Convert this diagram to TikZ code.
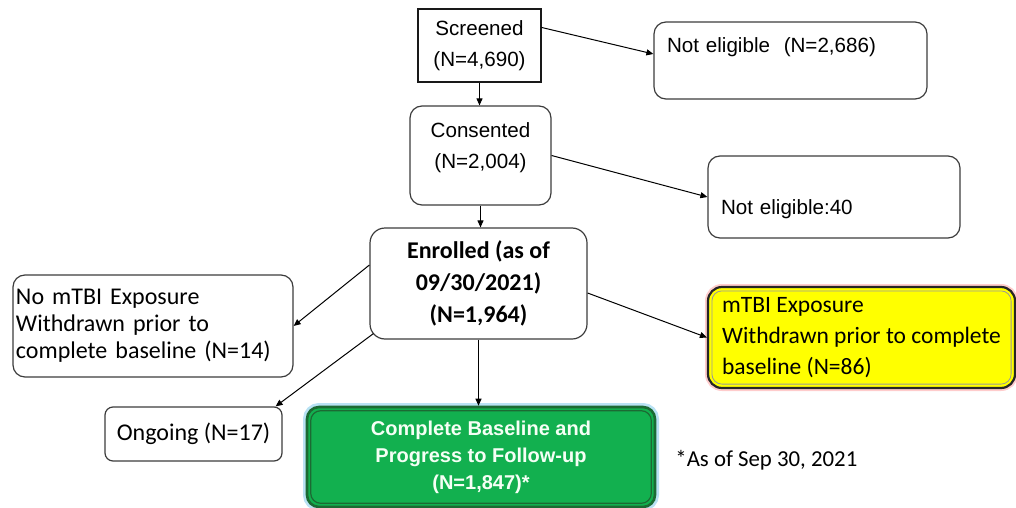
\documentclass[tikz,border=0pt]{standalone}
\usepackage{fontspec}
\setmainfont{Liberation Sans}
\newfontfamily\calibri{Carlito}
\usepackage{tikz}
\usetikzlibrary{arrows.meta,calc,positioning}
\definecolor{boxline}{HTML}{3C3C3C}
\definecolor{gfill}{HTML}{12B04F}
\definecolor{gline}{HTML}{1C6A33}
\definecolor{glow}{HTML}{B9E2F4}
\definecolor{yfill}{HTML}{FFFF00}

\begin{document}
\begin{tikzpicture}[x=0.5pt,y=-0.5pt,>={Triangle[length=3.5pt,width=3pt]},
  box/.style={draw=boxline,line width=0.6pt,rounded corners=6pt,inner sep=0pt,font=\fontsize{10.3}{15.5}\selectfont},
  cbox/.style={box,font=\calibri\fontsize{12}{13.5}\selectfont},
  flow/.style={->,line width=0.5pt}]
\useasboundingbox (0,0) rectangle (1016,508);
% screening
\node[box,rounded corners=0pt,draw=black!90,line width=0.55pt,minimum width=61.5pt,minimum height=36.5pt,align=center] (scr) at (479.5,45.5) {Screened\\(N=4,690)};
\node[box,text width=123.5pt,inner xsep=6.5pt,align=left,text height=15.25pt,text depth=23.25pt] (ne1) at (790.5,60.5) {Not eligible\ \ (N=2,686)};
\node[box,minimum width=70.5pt,minimum height=49.5pt,align=center] (con) at (480.5,155.5) {Consented\\(N=2,004)\\[-6pt]\mbox{}};
\node[box,text width=113pt,inner xsep=6.5pt,align=left,text height=29.25pt,text depth=11.75pt] (ne2) at (834,197) {Not eligible:40};
% enrolment
\node[cbox,font=\calibri\bfseries\fontsize{12}{16}\selectfont,rounded corners=7.5pt,minimum width=108.5pt,minimum height=55.5pt,align=center] (enr) at (478.5,283.5) {Enrolled (as of\\09/30/2021)\\(N=1,964)};
\node[cbox,text width=137pt,inner xsep=1.5pt,minimum height=51pt,align=left] (nomtbi) at (153,326) {No mTBI Exposure\\Withdrawn prior to\\complete baseline (N=14)};
\node[cbox,font=\calibri\fontsize{11.75}{15.5}\selectfont,fill=yfill,draw=black!85,line width=1.1pt,rounded corners=7pt,minimum width=153.5pt,minimum height=50.5pt,align=left,preaction={draw=red!20,line width=3pt}] (yel) at (861.5,337.5) {mTBI Exposure\\Withdrawn prior to complete\\baseline (N=86)};
\draw[black!40,line width=0.4pt,rounded corners=5pt] ($(yel.north west)+(5,5)$) rectangle ($(yel.south east)+(-5,-5)$);
% outcome
\node[cbox,rounded corners=4pt,minimum width=88.5pt,minimum height=27pt] (ong) at (193.5,434) {Ongoing (N=17)};
\node[box,draw=gline,line width=1.3pt,fill=gfill,rounded corners=6pt,minimum width=174pt,minimum height=50pt,align=center,text=green!4,font=\bfseries\fontsize{10}{13.5}\selectfont,preaction={draw=glow,line width=4pt}] (grn) at (481,457) {Complete Baseline and\\Progress to Follow-up\\(N=1,847)*};
\draw[gline,line width=0.6pt,rounded corners=5pt] ($(grn.north west)+(5,5)$) rectangle ($(grn.south east)+(-5,-5)$);
\node[font=\calibri\fontsize{11.4}{13}\selectfont,anchor=west,inner sep=0pt] (note) at (675,460) {*As of Sep 30, 2021};
% arrows
\draw[flow] (scr.south) -- (con.north -| scr.south);
\draw[flow] ($(scr.north east)+(0,19)$) -- ($(ne1.west)+(0,-6.5)$);
\draw[flow] (con.east) -- (ne2.west);
\draw[flow] (con.south) -- (enr.north -| con.south);
\draw[flow] ($(enr.west)+(0,-18.5)$) -- (nomtbi.east);
\draw[flow] ($(enr.south west)+(4,-6)$) -- ($(ong.north east)+(-7,0)$);
\draw[flow] ($(enr.east)+(0,9.5)$) -- (yel.west);
\draw[flow] (enr.south) -- (grn.north -| enr.south);
\end{tikzpicture}
\end{document}
